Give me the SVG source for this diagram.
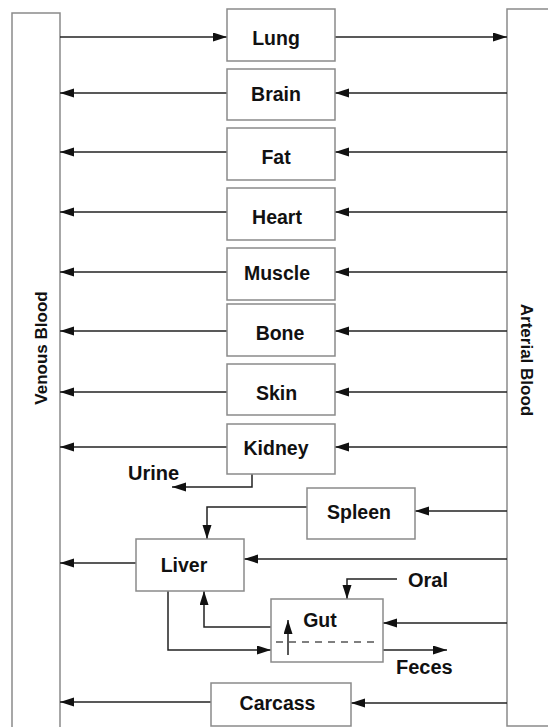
<svg xmlns="http://www.w3.org/2000/svg" width="548" height="727" viewBox="0 0 548 727">
<style>
.box{fill:#fff;stroke:#8a8a8a;stroke-width:1.5}
.lbl{font-family:"Liberation Sans",Arial,sans-serif;font-weight:bold;font-size:19.5px;fill:#111;text-anchor:middle}
.side{font-family:"Liberation Sans",Arial,sans-serif;font-weight:bold;font-size:17px;fill:#111;text-anchor:middle}
.out{font-family:"Liberation Sans",Arial,sans-serif;font-weight:bold;font-size:20px;fill:#111}
.ca{fill:none;stroke:#222;stroke-width:1.5;marker-end:url(#ah)}
</style>
<defs>
<marker id="ah" markerUnits="userSpaceOnUse" markerWidth="15" markerHeight="10" refX="14" refY="4.5" orient="auto">
<path d="M0,0 L14,4.5 L0,9 z" fill="#111"/>
</marker>
</defs>
<rect width="548" height="727" fill="#fff"/>
<g id="venous">
<rect class="box" x="12" y="13" width="48" height="720"/>
<text class="side" transform="translate(47,348) rotate(-90)">Venous Blood</text>
</g>
<g id="arterial">
<rect class="box" x="507" y="9" width="60" height="717"/>
<text class="side" transform="translate(521,360) rotate(90)">Arterial Blood</text>
</g>
<g id="connectors">
<path class="ca" d="M60,37 H227"/>
<path class="ca" d="M335,37 H507"/>
<path class="ca" d="M507,93 H335"/>
<path class="ca" d="M227,93 H60"/>
<path class="ca" d="M507,152 H335"/>
<path class="ca" d="M227,152 H60"/>
<path class="ca" d="M507,212 H335"/>
<path class="ca" d="M227,212 H60"/>
<path class="ca" d="M507,272 H335"/>
<path class="ca" d="M227,272 H60"/>
<path class="ca" d="M507,331 H335"/>
<path class="ca" d="M227,331 H60"/>
<path class="ca" d="M507,392 H335"/>
<path class="ca" d="M227,392 H60"/>
<path class="ca" d="M507,447 H335"/>
<path class="ca" d="M227,447 H60"/>
<path class="ca" d="M252,474 V487 H172"/>
<path class="ca" d="M507,511 H415"/>
<path class="ca" d="M307,507 H207 V539"/>
<path class="ca" d="M507,559 H244"/>
<path class="ca" d="M136,563 H60"/>
<path class="ca" d="M507,623 H383"/>
<path class="ca" d="M397,579 H347 V599"/>
<path class="ca" d="M271,627 H204 V591"/>
<path class="ca" d="M168,591 V650 H271"/>
<path class="ca" d="M383,650 H447"/>
<path class="ca" d="M507,703 H351"/>
<path class="ca" d="M211,702 H60"/>
</g>
<g id="lung"><rect class="box" x="227" y="9" width="108" height="52"/><text class="lbl" x="276" y="45">Lung</text></g>
<g id="brain"><rect class="box" x="227" y="69" width="108" height="51"/><text class="lbl" x="276" y="101">Brain</text></g>
<g id="fat"><rect class="box" x="227" y="128" width="108" height="52"/><text class="lbl" x="276" y="164">Fat</text></g>
<g id="heart"><rect class="box" x="227" y="188" width="108" height="52"/><text class="lbl" x="277" y="224">Heart</text></g>
<g id="muscle"><rect class="box" x="227" y="248" width="108" height="52"/><text class="lbl" x="277" y="280">Muscle</text></g>
<g id="bone"><rect class="box" x="227" y="304" width="108" height="52"/><text class="lbl" x="280" y="340">Bone</text></g>
<g id="skin"><rect class="box" x="227" y="364" width="108" height="51"/><text class="lbl" x="276.5" y="400">Skin</text></g>
<g id="kidney"><rect class="box" x="227" y="424" width="108" height="50"/><text class="lbl" x="276" y="455">Kidney</text></g>
<g id="urine"><text class="out" x="128" y="480">Urine</text></g>
<g id="spleen"><rect class="box" x="307" y="488" width="108" height="51"/><text class="lbl" x="359" y="519">Spleen</text></g>
<g id="liver"><rect class="box" x="136" y="539" width="108" height="52"/><text class="lbl" x="184" y="572">Liver</text></g>
<g id="gut">
<rect class="box" x="271" y="599" width="112" height="63"/>
<text class="lbl" x="320" y="627">Gut</text>
<path d="M276,642 H379" stroke="#555" stroke-width="1.5" stroke-dasharray="7,6" fill="none"/>
<path class="ca" d="M288,655 V620"/>
</g>
<g id="oral"><text class="out" x="408" y="587">Oral</text></g>
<g id="feces"><text class="out" x="396" y="674">Feces</text></g>
<g id="carcass"><rect class="box" x="211" y="683" width="140" height="43"/><text class="lbl" x="277.5" y="710">Carcass</text></g>
</svg>
